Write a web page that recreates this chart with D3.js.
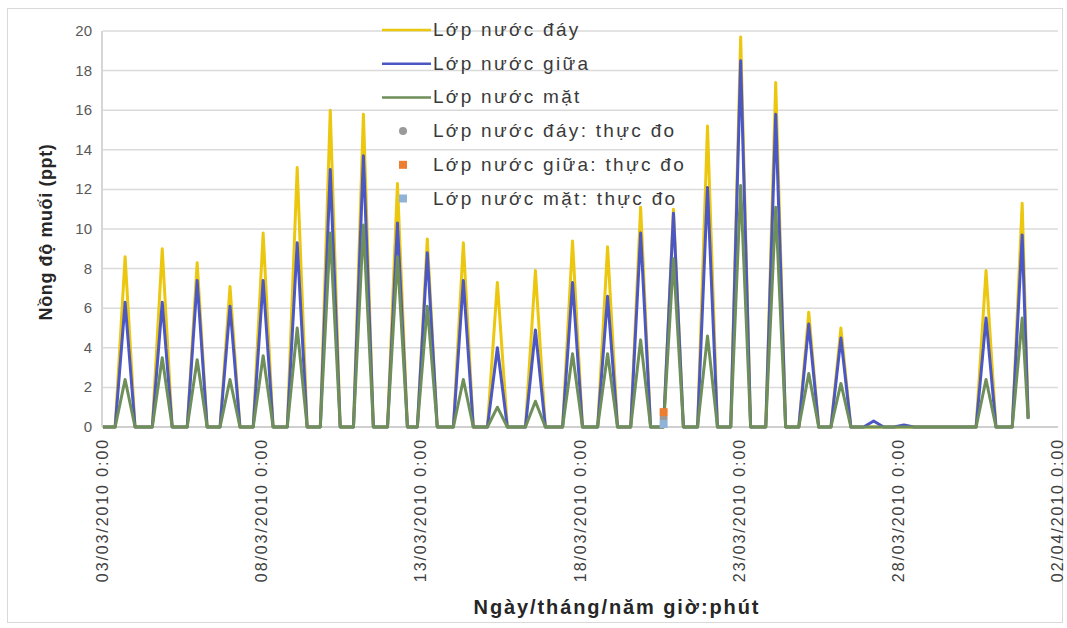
<!DOCTYPE html>
<html>
<head>
<meta charset="utf-8">
<script src="https://cdn.jsdelivr.net/npm/d3@7"></script>
<style>
  body { margin: 0; background: #fff; }
  svg { display: block; font-family: "Liberation Sans", Arial, sans-serif; }
</style>
</head>
<body>
<div id="chart"></div>
<script>
// peak times of each tidal salt intrusion
var peakTimes = ["2010-03-03 16:40","2010-03-04 20:40","2010-03-05 23:00","2010-03-06 23:45","2010-03-08 00:45",
  "2010-03-09 02:25","2010-03-10 03:20","2010-03-11 04:20","2010-03-12 06:00","2010-03-13 04:30",
  "2010-03-14 07:40","2010-03-15 09:20","2010-03-16 14:00","2010-03-17 18:00","2010-03-18 20:25",
  "2010-03-19 21:20","2010-03-20 22:05","2010-03-21 23:45","2010-03-23 00:45","2010-03-24 03:10",
  "2010-03-25 04:05","2010-03-26 04:20","2010-03-27 05:00","2010-03-28 03:50","2010-03-30 17:45",
  "2010-03-31 21:00"];
var dayPeak  = [8.6, 9.0, 8.3, 7.1, 9.8, 13.1, 16.0, 15.8, 12.3, 9.5, 9.3, 7.3, 7.9, 9.4, 9.1, 11.1, 11.0, 15.2, 19.7, 17.4, 5.8, 5.0, 0, 0, 7.9, 11.3];
var giuaPeak = [6.3, 6.3, 7.4, 6.1, 7.4, 9.3, 13.0, 13.7, 10.3, 8.8, 7.4, 4.0, 4.9, 7.3, 6.6, 9.8, 10.8, 12.1, 18.5, 15.8, 5.2, 4.5, 0.3, 0.1, 5.5, 9.7];
var matPeak  = [2.4, 3.5, 3.4, 2.4, 3.6, 5.0, 9.8, 10.2, 8.6, 6.1, 2.4, 1.0, 1.3, 3.7, 3.7, 4.4, 8.5, 4.6, 12.2, 11.1, 2.7, 2.2, 0, 0, 2.4, 5.5];
var seriesEnd = "2010-04-01 01:30";
var endValues = [0.5, 0.45, 0.4];   // value of each line at the last record

// measured points (thực đo)
var obsTime = "2010-03-20 14:40";
var obsValues = [0.45, 0.75, 0.15];

var names = ["Lớp nước đáy", "Lớp nước giữa", "Lớp nước mặt",
             "Lớp nước đáy: thực đo", "Lớp nước giữa: thực đo", "Lớp nước mặt: thực đo"];
var lineColors = ["#ecc70f", "#4b57c4", "#6f8f5a"];
var obsColors = ["#9a9a9a", "#ed7d31", "#8fb4d8"];
var yTicks = [0, 2, 4, 6, 8, 10, 12, 14, 16, 18, 20];
var xTicks = ["2010-03-03", "2010-03-08", "2010-03-13", "2010-03-18", "2010-03-23", "2010-03-28", "2010-04-02"];

var W = 1067, H = 628;
var parse = d3.timeParse("%Y-%m-%d %H:%M");
var parseDay = d3.timeParse("%Y-%m-%d");
var fmt = d3.timeFormat("%d/%m/%Y 0:00");

var x = d3.scaleTime().domain([parseDay("2010-03-03"), parseDay("2010-04-02")]).range([103, 1058]);
var y = d3.scaleLinear().domain([0, 20]).range([427, 31]);

var halfWidth = 7.5 * 3600 * 1000;
function buildSeries(peaks, endV) {
  var pts = [{t: parseDay("2010-03-03"), v: 0}];
  peakTimes.forEach(function(s, i) {
    var t = parse(s);
    pts.push({t: new Date(+t - halfWidth), v: 0});
    pts.push({t: t, v: peaks[i]});
    if (i < peakTimes.length - 1) pts.push({t: new Date(+t + halfWidth), v: 0});
    else pts.push({t: parse(seriesEnd), v: endV});
  });
  return pts;
}
var series = [buildSeries(dayPeak, endValues[0]), buildSeries(giuaPeak, endValues[1]), buildSeries(matPeak, endValues[2])];

var svg = d3.select("#chart").append("svg").attr("width", W).attr("height", H);

svg.append("rect").attr("x", 7.5).attr("y", 8.5).attr("width", 1055).attr("height", 614)
  .attr("fill", "#fff").attr("stroke", "#d9d9d9");

// grid
svg.append("g").selectAll("line").data(yTicks.slice(1)).enter().append("line")
  .attr("x1", 103).attr("x2", 1058).attr("y1", function(d){ return y(d); }).attr("y2", function(d){ return y(d); })
  .attr("stroke", "#dadada").attr("stroke-width", 1.5);

svg.append("line").attr("x1", 102).attr("x2", 102).attr("y1", y(20)).attr("y2", y(0))
  .attr("stroke", "#c8c8c8").attr("stroke-width", 1.5);
svg.append("line").attr("x1", 102).attr("x2", 1058).attr("y1", y(0)).attr("y2", y(0))
  .attr("stroke", "#bfbfbf").attr("stroke-width", 1.5);

// y axis
svg.append("g").selectAll("text").data(yTicks).enter().append("text")
  .attr("x", 92).attr("y", function(d){ return y(d) + 5; })
  .attr("text-anchor", "end").attr("font-size", 15).attr("fill", "#595959")
  .text(function(d){ return d; });

// x axis labels
svg.append("g").selectAll("text").data(xTicks).enter().append("text")
  .attr("transform", function(d){ return "translate(" + (x(parseDay(d)) + 5) + ",438) rotate(-90)"; })
  .attr("text-anchor", "end").attr("font-size", 16).attr("letter-spacing", 1.9).attr("fill", "#404040")
  .text(function(d){ return fmt(parseDay(d)); });

// lines
var line = d3.line().x(function(d){ return x(d.t); }).y(function(d){ return y(d.v); });
svg.append("g").selectAll("path").data(series).enter().append("path")
  .attr("d", line).attr("fill", "none")
  .attr("stroke", function(d, i){ return lineColors[i]; })
  .attr("stroke-width", 3).attr("stroke-linejoin", "round");

// measured
var ot = parse(obsTime);
svg.append("circle").attr("cx", x(ot)).attr("cy", y(obsValues[0])).attr("r", 4).attr("fill", obsColors[0]);
svg.append("rect").attr("x", x(ot) - 4).attr("y", y(obsValues[1]) - 4).attr("width", 8).attr("height", 8).attr("fill", obsColors[1]);
svg.append("rect").attr("x", x(ot) - 4).attr("y", y(obsValues[2]) - 4).attr("width", 8).attr("height", 8).attr("fill", obsColors[2]);

// legend
var lg = svg.append("g").attr("font-size", 19).attr("fill", "#3a3a3a").attr("letter-spacing", 2.3);
names.forEach(function(n, i) {
  var ly = 30 + i * 33.7;
  if (i < 3) {
    lg.append("line").attr("x1", 382).attr("x2", 431).attr("y1", ly).attr("y2", ly)
      .attr("stroke", lineColors[i]).attr("stroke-width", 2.5);
  } else if (i === 3) {
    lg.append("circle").attr("cx", 403).attr("cy", ly).attr("r", 4).attr("fill", obsColors[0]);
  } else {
    lg.append("rect").attr("x", 399).attr("y", ly - 4).attr("width", 8).attr("height", 8).attr("fill", obsColors[i - 3]);
  }
  lg.append("text").attr("x", 433).attr("y", ly + 6).text(n);
});

// titles
svg.append("text").attr("transform", "translate(52,232) rotate(-90)").attr("text-anchor", "middle")
  .attr("font-size", 18).attr("letter-spacing", 0.6).attr("font-weight", "bold").attr("fill", "#262626").text("Nồng độ muối (ppt)");
svg.append("text").attr("x", 617).attr("y", 614).attr("text-anchor", "middle")
  .attr("font-size", 20).attr("letter-spacing", 1.9).attr("font-weight", "bold").attr("fill", "#262626").text("Ngày/tháng/năm giờ:phút");
</script>
</body>
</html>
